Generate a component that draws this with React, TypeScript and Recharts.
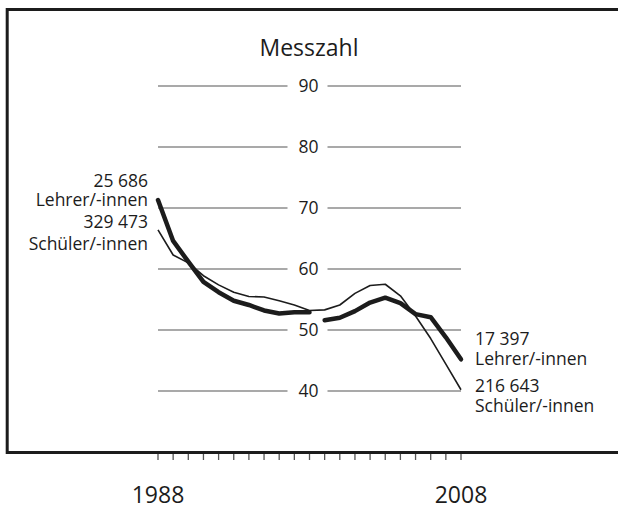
import React from 'react';
import { LineChart, Line, XAxis, YAxis, CartesianGrid } from 'recharts';

const years = [1988, 1989, 1990, 1991, 1992, 1993, 1994, 1995, 1996, 1997, 1998, 1999, 2000, 2001, 2002, 2003, 2004, 2005, 2006, 2007, 2008];
const lehrer = [71.3, 64.6, 61.2, 57.9, 56.2, 54.8, 54.1, 53.2, 52.7, 52.9, 52.9, 51.6, 52.0, 53.1, 54.5, 55.3, 54.4, 52.6, 52.1, 48.8, 45.2];
const schueler = [66.4, 62.3, 61.0, 58.9, 57.4, 56.2, 55.5, 55.4, 54.8, 54.1, 53.2, 53.3, 54.1, 56.0, 57.3, 57.5, 55.6, 52.3, 48.6, 44.4, 40.2];
// Lehrer series is interrupted after this year
const lehrerBreakAfter = 1998;
const yTicks = [40, 50, 60, 70, 80, 90];
const labeledYears = [1988, 2008];
const startLabels = ['25 686', 'Lehrer/-innen', '329 473', 'Schüler/-innen'];
const endLabels = ['17 397', 'Lehrer/-innen', '216 643', 'Schüler/-innen'];

const data = years.map((year, i) => ({
  year,
  lehrerA: year <= lehrerBreakAfter ? lehrer[i] : null,
  lehrerB: year > lehrerBreakAfter ? lehrer[i] : null,
  schueler: schueler[i],
}));

const W = 618;
const H = 510;
const margin = { top: 86, right: 157, bottom: 18, left: 157 };
const plotCenter = 158 + (W - 158 - margin.right) / 2;
const font = '"Open Sans", "Noto Sans", sans-serif';
const ink = '#1c1c1c';

const YTick = (props: any) => {
  const { y, payload } = props;
  return (
    <g>
      <rect x={plotCenter - 22} y={y - 7} width={40} height={14} fill="#fff" />
      <text x={plotCenter - 1} y={y + 6} textAnchor="middle" fontSize={17.5} fontFamily={font} fill={ink}>
        {payload.value}
      </text>
    </g>
  );
};

const XTick = (props: any) => {
  const { x, y, payload } = props;
  if (!labeledYears.includes(payload.value)) return <g />;
  return (
    <text x={x} y={y + 41} textAnchor="middle" fontSize={23} fontFamily={font} fill={ink}>
      {payload.value}
    </text>
  );
};

const startDy = [0, 18.5, 22.5, 22];
const endDy = [0, 20, 26.5, 20];

export default function App() {
  return (
    <div style={{ position: 'fixed', left: 0, top: 0, width: W, height: H, overflow: 'hidden', background: '#fff' }}>
      <div style={{ position: 'absolute', left: 0, top: 0 }}>
        <LineChart width={W} height={H} data={data} margin={margin}>
          <CartesianGrid horizontal vertical={false} stroke="#555" strokeWidth={1.2} />
          <XAxis
            dataKey="year"
            type="number"
            domain={[1988, 2008]}
            ticks={years}
            interval={0}
            height={40}
            axisLine={false}
            tickLine={{ stroke: '#555', strokeWidth: 1.3 }}
            tickSize={8}
            tick={<XTick />}
          />
          <YAxis
            type="number"
            domain={[30, 90]}
            ticks={yTicks}
            interval={0}
            width={1}
            axisLine={false}
            tickLine={false}
            tick={(p: any) => <YTick {...p} />}
          />
          <Line type="linear" dataKey="schueler" stroke={ink} strokeWidth={1.6} dot={false} strokeLinejoin="round" isAnimationActive={false} />
          <Line type="linear" dataKey="lehrerA" stroke={ink} strokeWidth={4.5} dot={false} strokeLinejoin="round" strokeLinecap="round" connectNulls={false} isAnimationActive={false} />
          <Line type="linear" dataKey="lehrerB" stroke={ink} strokeWidth={4.5} dot={false} strokeLinejoin="round" strokeLinecap="round" connectNulls={false} isAnimationActive={false} />
        </LineChart>
      </div>
      <svg width={W} height={H} style={{ position: 'absolute', left: 0, top: 0, pointerEvents: 'none' }}>
        <path d="M 620 9.5 H 7.2 V 452.5 H 620" fill="none" stroke={ink} strokeWidth={3} />
        <text x={309} y={56} textAnchor="middle" fontSize={23} fontFamily={font} fill={ink}>
          Messzahl
        </text>
        <text x={148} y={187} textAnchor="end" fontSize={17.5} fontFamily={font} fill={ink}>
          {startLabels.map((t, i) => (
            <tspan key={i} x={148} dy={startDy[i]}>{t}</tspan>
          ))}
        </text>
        <text x={475} y={345} textAnchor="start" fontSize={17.5} fontFamily={font} fill={ink}>
          {endLabels.map((t, i) => (
            <tspan key={i} x={475} dy={endDy[i]}>{t}</tspan>
          ))}
        </text>
      </svg>
    </div>
  );
}
